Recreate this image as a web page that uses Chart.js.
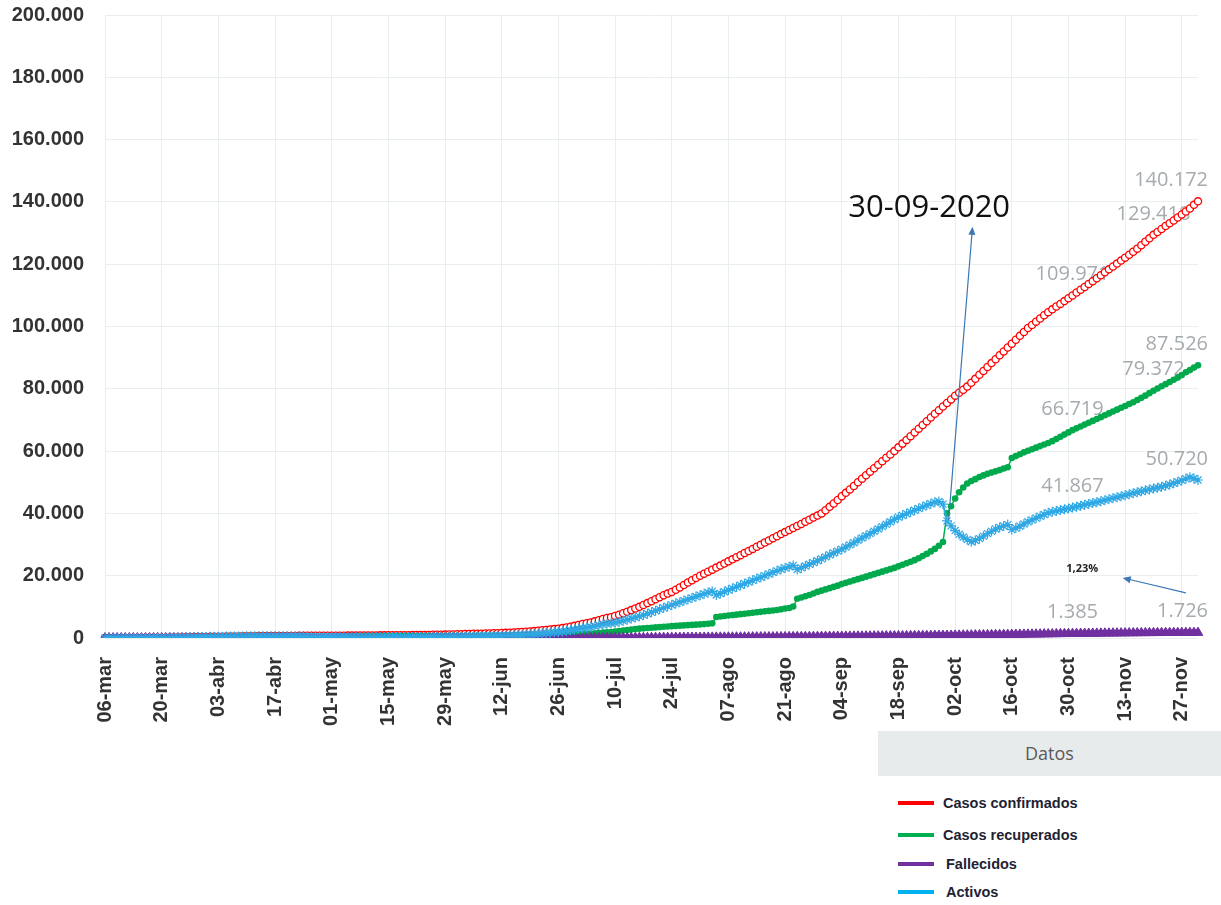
<!DOCTYPE html>
<html>
<head>
<meta charset="utf-8">
<script src="https://cdn.jsdelivr.net/npm/chart.js@4/dist/chart.umd.min.js"></script>
<style>
  body { margin: 0; background: #fff; }
  #wrap { position: relative; width: 1221px; height: 905px; overflow: hidden; }
  #grafico { position: absolute; left: 0; top: 0; }
  #leyenda { position: absolute; left: 878px; top: 731px; width: 343px; height: 174px; background: #fff; font-family: "Liberation Sans", Arial, sans-serif; }
  #leyenda .titulo { height: 45px; line-height: 45px; background: #e8ebeb; color: #595959; font-size: 18px; text-align: center; font-family: "Open Sans", sans-serif; }
  #leyenda .item { position: absolute; left: 20px; height: 20px; display: flex; align-items: center; }
  #leyenda .linea { width: 36px; height: 4px; margin-right: 9px; }
  #leyenda .texto { font-size: 14.5px; font-weight: bold; color: #1e2233; }
</style>
</head>
<body>
<div id="wrap">
  <canvas id="grafico" width="1221" height="905"></canvas>
  <div id="leyenda">
    <div class="titulo">Datos</div>
  </div>
</div>
<script>
// fechas 06-mar .. 01-dic
const meses = ['ene', 'feb', 'mar', 'abr', 'may', 'jun', 'jul', 'ago', 'sep', 'oct', 'nov', 'dic'];
const fechas = [];
for (let d = new Date(2020, 2, 6); d <= new Date(2020, 11, 1); d.setDate(d.getDate() + 1)) {
    fechas.push(String(d.getDate()).padStart(2, '0') + '-' + meses[d.getMonth()]);
}

const confirmados = [
    1, 5, 9, 9, 13, 22, 23, 26, 27, 35, 41, 50, 69, 87,
    113, 117, 134, 158, 177, 201, 231, 263, 295, 314, 330, 347, 375, 396,
    416, 435, 454, 467, 483, 502, 539, 558, 577, 595, 612, 618, 626, 642,
    649, 655, 660, 662, 669, 681, 687, 693, 695, 697, 705, 713, 719, 725,
    739, 742, 755, 761, 765, 773, 778, 792, 801, 804, 815, 830, 843, 853,
    866, 882, 897, 903, 911, 918, 930, 951, 956, 984, 1000, 1022, 1047, 1056,
    1084, 1105, 1157, 1194, 1228, 1263, 1318, 1342, 1375, 1400, 1440, 1470, 1510, 1560,
    1600, 1660, 1720, 1800, 1870, 1940, 2040, 2120, 2210, 2330, 2480, 2600, 2720, 2860,
    3000, 3180, 3400, 3640, 3900, 4200, 4480, 4720, 5000, 5350, 5720, 6080, 6420, 6700,
    7050, 7480, 7950, 8450, 8950, 9480, 10000, 10580, 11200, 11820, 12450, 13090, 13700, 14250,
    14800, 15500, 16250, 17000, 17800, 18550, 19300, 20000, 20620, 21300, 21950, 22600, 23250, 23900,
    24600, 25250, 25950, 26600, 27300, 27950, 28600, 29300, 29950, 30650, 31300, 32000, 32650, 33350,
    34000, 34650, 35300, 35950, 36600, 37300, 37950, 38650, 39300, 40000, 41000, 42100, 43200, 44300,
    45500, 46600, 47700, 48800, 50000, 51150, 52250, 53400, 54500, 55600, 56750, 57850, 58900, 60000,
    61200, 62400, 63600, 64800, 66000, 67200, 68400, 69600, 70800, 72000, 73150, 74300, 75450, 76600,
    77800, 78750, 79700, 80700, 81950, 83200, 84500, 85750, 87000, 88250, 89500, 90750, 92000, 93250,
    94500, 95750, 97000, 98250, 99500, 100500, 101550, 102550, 103600, 104600, 105500, 106400, 107250, 108150,
    109050, 109971, 110900, 111800, 112700, 113650, 114550, 115500, 116450, 117400, 118350, 119250, 120200, 121150,
    122100, 123050, 124000, 125000, 126100, 127200, 128300, 129418, 130350, 131300, 132250, 133150, 134050, 135000,
    135950, 136900, 137900, 139050, 140172
];

const recuperados = [
    0, 0, 0, 0, 0, 0, 0, 0, 0, 0, 0, 0, 0, 0,
    0, 0, 0, 0, 0, 0, 0, 0, 2, 3, 4, 4, 4, 6,
    8, 9, 9, 14, 17, 23, 27, 30, 33, 42, 47, 53, 55, 61,
    75, 80, 88, 100, 112, 124, 134, 149, 178, 227, 257, 285, 311, 326,
    339, 357, 398, 436, 454, 476, 484, 508, 521, 533, 548, 552, 555, 561,
    565, 574, 592, 604, 609, 618, 620, 625, 629, 635, 641, 650, 654, 660,
    664, 671, 681, 694, 707, 715, 730, 741, 755, 770, 786, 795, 802, 812,
    826, 839, 850, 862, 877, 893, 903, 915, 930, 941, 955, 970, 988, 1004,
    1020, 1060, 1100, 1150, 1200, 1260, 1310, 1380, 1450, 1530, 1620, 1720, 1830, 1950,
    2100, 2250, 2400, 2550, 2700, 2850, 3000, 3100, 3200, 3300, 3400, 3500, 3600, 3700,
    3800, 3880, 3960, 4040, 4120, 4200, 4280, 4370, 4460, 4560, 4700, 6750, 6900, 7050,
    7200, 7350, 7500, 7650, 7800, 7950, 8100, 8250, 8400, 8550, 8700, 8850, 9000, 9200,
    9450, 9650, 10100, 12600, 13000, 13400, 13800, 14300, 14800, 15200, 15600, 16000, 16400, 16800,
    17300, 17700, 18100, 18500, 18900, 19300, 19700, 20100, 20500, 20900, 21300, 21700, 22100, 22500,
    23000, 23500, 24000, 24500, 25000, 25600, 26300, 27000, 27800, 28600, 29600, 30800,
    40000, 42300, 44800, 46800, 48300, 49600, 50400, 51000, 51700, 52200, 52700, 53100, 53500, 53900,
    54400, 54800, 57800, 58400, 59000, 59600, 60100, 60600, 61100, 61600, 62100, 62600, 63200, 63900,
    64600, 65300, 66000, 66719, 67300, 67900, 68500, 69100, 69700, 70300, 70900, 71500, 72100, 72700,
    73300, 73900, 74500, 75100, 75700, 76400, 77100, 77800, 78600, 79372, 80100, 80800, 81500, 82200,
    82900, 83600, 84400, 85300, 86000, 86800, 87526
];

const fallecidos = [
    0, 0, 0, 0, 0, 0, 0, 0, 0, 0, 0, 0, 1, 1,
    1, 2, 2, 2, 2, 2, 2, 2, 2, 2, 2, 2, 2, 2,
    2, 2, 3, 3, 3, 3, 3, 3, 3, 3, 3, 3, 4, 4,
    4, 5, 5, 5, 5, 5, 5, 6, 6, 6, 6, 6, 6, 6,
    6, 6, 6, 6, 6, 6, 6, 6, 6, 6, 6, 6, 6, 6,
    8, 8, 8, 9, 9, 9, 9, 10, 10, 10, 10, 10, 10, 10,
    10, 10, 10, 10, 10, 10, 10, 10, 10, 10, 12, 12, 12, 12,
    12, 12, 12, 12, 13, 13, 13, 14, 14, 15, 15, 16, 16, 16,
    17, 17, 18, 19, 20, 22, 23, 25, 26, 28, 30, 33, 36, 40,
    42, 45, 49, 53, 57, 62, 66, 72, 78, 84, 90, 96, 104, 110,
    116, 125, 133, 142, 150, 157, 164, 172, 180, 188, 196, 205, 213, 221,
    230, 238, 246, 255, 263, 272, 281, 290, 300, 309, 318, 327, 336, 346,
    355, 364, 374, 383, 393, 402, 412, 422, 432, 442, 452, 463, 474, 485,
    496, 507, 518, 529, 540, 551, 562, 573, 584, 596, 608, 620, 632, 644,
    656, 668, 680, 692, 704, 716, 729, 742, 755, 768, 781, 794, 807, 820,
    838, 856, 874, 893, 912, 931, 950, 969, 988, 1007, 1026, 1045, 1064, 1083,
    1102, 1118, 1140, 1161, 1176, 1197, 1219, 1232, 1255, 1271, 1290, 1313, 1329, 1350,
    1367, 1385, 1400, 1415, 1430, 1445, 1460, 1475, 1490, 1505, 1520, 1535, 1550, 1565,
    1578, 1590, 1602, 1614, 1626, 1638, 1650, 1662, 1670, 1677, 1684, 1690, 1696, 1701,
    1706, 1711, 1716, 1721, 1726
];

const activos = [
    1, 5, 9, 9, 13, 22, 23, 26, 27, 35, 41, 50, 68, 86,
    112, 115, 132, 156, 175, 199, 229, 261, 291, 309, 324, 341, 369, 388,
    406, 424, 442, 450, 463, 476, 509, 525, 541, 550, 562, 562, 567, 577,
    570, 570, 567, 557, 552, 552, 548, 538, 511, 464, 442, 422, 402, 393,
    394, 379, 351, 319, 305, 291, 288, 278, 274, 265, 261, 272, 282, 286,
    293, 300, 297, 290, 293, 291, 301, 316, 317, 339, 349, 362, 383, 386,
    410, 424, 466, 490, 511, 538, 578, 591, 610, 620, 642, 663, 696, 736,
    762, 809, 858, 926, 980, 1034, 1124, 1191, 1266, 1374, 1510, 1614, 1716, 1840,
    1963, 2103, 2282, 2471, 2680, 2918, 3147, 3315, 3524, 3792, 4070, 4327, 4554, 4710,
    4900, 5200, 5530, 5880, 6250, 6600, 6950, 7350, 7800, 8250, 8750, 9200, 9700, 10150,
    10600, 11050, 11500, 11950, 12400, 12850, 13300, 13750, 14200, 14600, 15000, 13800, 14300, 14850,
    15400, 15900, 16400, 16950, 17450, 17950, 18500, 19000, 19500, 20000, 20550, 21050, 21550, 22050,
    22500, 22900, 23300, 22000, 22500, 23100, 23650, 24200, 24800, 25400, 26050, 26700, 27300, 27900,
    28500, 29200, 29900, 30600, 31400, 32100, 32800, 33500, 34250, 35000, 35750, 36500, 37300, 38050,
    38800, 39350, 39900, 40450, 41000, 41550, 42100, 42600, 43100, 43600, 43800, 43000,
    37600, 36000, 34500, 33300, 32400, 31600, 30900, 31300, 31900, 32700, 33500, 34250, 35000, 35500,
    35950, 36400, 34800, 35300, 35900, 36600, 37300, 37900, 38500, 39100, 39650, 40200, 40500, 40800,
    41100, 41350, 41600, 41867, 42150, 42450, 42750, 43050, 43350, 43600, 43900, 44250, 44550, 44900,
    45200, 45500, 45850, 46150, 46500, 46800, 47100, 47400, 47700, 48000, 48250, 48550, 48900, 49300,
    49700, 50150, 50600, 51100, 51600, 51200, 50720
];

// puntos con etiqueta de valor (indice de fecha)
const etiquetasConfirmados = [239, 259, 270];
const etiquetasRecuperados = [239, 259, 270];
const etiquetasActivos = [239, 270];
const etiquetasFallecidos = [239, 270];

// anotaciones en coordenadas de datos [indice fecha, valor]
const flechas = [
    { de: [208.4, 37900], a: [214.3, 132000] },
    { de: [267, 14500], a: [251.4, 19300] }
];
const notas = [
    { texto: '30-09-2020', pos: [203.6, 138100], font: '31px "Open Sans"', color: '#111111' },
    { texto: '1,23%', pos: [241.4, 22200], font: 'bold 11px "Open Sans"', color: '#222222' }
];

const series = [
    { nombre: 'Casos confirmados', color: '#ff0000', data: confirmados, etiquetas: etiquetasConfirmados },
    { nombre: 'Casos recuperados', color: '#00b050', data: recuperados, etiquetas: etiquetasRecuperados },
    { nombre: 'Fallecidos', color: '#7030a0', data: fallecidos, etiquetas: etiquetasFallecidos },
    { nombre: 'Activos', color: '#00b0f0', data: activos, etiquetas: etiquetasActivos }
];

const gridColor = '#e9eeef';
const puntos = v => String(v).replace(/\B(?=(\d{3})+(?!\d))/g, '.');

const anotaciones = {
    id: 'anotaciones',
    beforeDatasetsDraw(chart) {
        const ctx = chart.ctx;
        const x = chart.scales.x;
        const y = chart.scales.y;
        ctx.save();
        ctx.font = '20px "Open Sans"';
        ctx.fillStyle = '#a5abaf';
        ctx.textAlign = 'center';
        ctx.textBaseline = 'middle';
        series.forEach(s => {
            s.etiquetas.forEach(i => {
                const txt = puntos(s.data[i]);
                const w = ctx.measureText(txt).width;
                const px = Math.min(x.getPixelForValue(i), chart.width - 13 - w / 2);
                ctx.fillText(txt, px, y.getPixelForValue(s.data[i]) - 21);
            });
        });
        ctx.restore();
    },
    afterDatasetsDraw(chart) {
        const ctx = chart.ctx;
        const x = chart.scales.x;
        const y = chart.scales.y;
        ctx.save();
        ctx.strokeStyle = '#3b78b4';
        ctx.fillStyle = '#3b78b4';
        ctx.lineWidth = 1.2;
        flechas.forEach(f => {
            const x1 = x.getPixelForValue(f.de[0]), y1 = y.getPixelForValue(f.de[1]);
            const x2 = x.getPixelForValue(f.a[0]), y2 = y.getPixelForValue(f.a[1]);
            const ang = Math.atan2(y2 - y1, x2 - x1);
            ctx.beginPath();
            ctx.moveTo(x1, y1);
            ctx.lineTo(x2 - 6 * Math.cos(ang), y2 - 6 * Math.sin(ang));
            ctx.stroke();
            ctx.beginPath();
            ctx.moveTo(x2, y2);
            ctx.lineTo(x2 - 8 * Math.cos(ang) + 3.5 * Math.sin(ang), y2 - 8 * Math.sin(ang) - 3.5 * Math.cos(ang));
            ctx.lineTo(x2 - 8 * Math.cos(ang) - 3.5 * Math.sin(ang), y2 - 8 * Math.sin(ang) + 3.5 * Math.cos(ang));
            ctx.closePath();
            ctx.fill();
        });
        ctx.textAlign = 'center';
        ctx.textBaseline = 'middle';
        notas.forEach(n => {
            ctx.font = n.font;
            ctx.fillStyle = n.color;
            ctx.fillText(n.texto, x.getPixelForValue(n.pos[0]), y.getPixelForValue(n.pos[1]));
        });
        ctx.restore();
    }
};

new Chart(document.getElementById('grafico'), {
    type: 'line',
    data: {
        labels: fechas,
        datasets: [
            {
                label: series[0].nombre,
                data: confirmados,
                borderColor: '#ff0000',
                borderWidth: 1,
                pointStyle: 'circle',
                pointRadius: 3.6,
                pointBorderWidth: 1.3,
                pointBackgroundColor: '#ffffff',
                pointBorderColor: '#ff0000',
                order: 3
            },
            {
                label: series[1].nombre,
                data: recuperados,
                borderColor: '#00b050',
                borderWidth: 1.5,
                pointStyle: 'circle',
                pointRadius: 3.3,
                pointBorderWidth: 0,
                pointBackgroundColor: '#00aa4c',
                order: 2
            },
            {
                label: series[2].nombre,
                data: fallecidos,
                borderColor: '#7030a0',
                borderWidth: 6,
                pointStyle: 'triangle',
                pointRadius: 5.5,
                pointBorderWidth: 1,
                pointBackgroundColor: '#7030a0',
                pointBorderColor: '#7030a0',
                order: 1
            },
            {
                label: series[3].nombre,
                data: activos,
                borderColor: '#2fa8e4',
                borderWidth: 2,
                pointStyle: 'star',
                pointRadius: 5,
                pointBorderWidth: 1.2,
                pointBorderColor: '#2fa8e4',
                pointBackgroundColor: '#2fa8e4',
                order: 0
            }
        ]
    },
    options: {
        responsive: false,
        animation: false,
        events: [],
        layout: { padding: { top: 15, right: 23, left: 0, bottom: 0 } },
        plugins: {
            legend: { display: false },
            tooltip: { enabled: false }
        },
        scales: {
            x: {
                offset: false,
                afterFit: function(scale) {
                    scale.height = 267;
                    scale.paddingLeft = 0;
                    scale.paddingRight = 0;
                },
                border: { display: false },
                grid: {
                    drawTicks: false,
                    color: function(c) { return c.index % 14 === 0 ? gridColor : 'rgba(0,0,0,0)'; }
                },
                ticks: {
                    autoSkip: false,
                    minRotation: 90,
                    maxRotation: 90,
                    padding: 19,
                    color: '#333333',
                    font: { family: '"Liberation Sans", Arial, sans-serif', size: 20, weight: 'bold' },
                    callback: function(value, index) {
                        return index % 14 === 0 ? this.getLabelForValue(value) : '';
                    }
                }
            },
            y: {
                min: 0,
                max: 200000,
                afterFit: function(scale) {
                    scale.width = 105;
                    scale.paddingTop = 0;
                    scale.paddingBottom = 0;
                },
                border: { display: false },
                grid: { drawTicks: false, color: gridColor },
                ticks: {
                    stepSize: 20000,
                    padding: 21,
                    color: '#333333',
                    font: { family: '"Liberation Sans", Arial, sans-serif', size: 20, weight: 'bold' },
                    callback: function(value) { return puntos(value); }
                }
            }
        }
    },
    plugins: [anotaciones]
});

// leyenda
const leyenda = document.getElementById('leyenda');
const posLeyenda = [62, 94, 123, 151];
series.forEach((s, i) => {
    const item = document.createElement('div');
    item.className = 'item';
    item.style.top = posLeyenda[i] + 'px';
    const linea = document.createElement('div');
    linea.className = 'linea';
    linea.style.background = s.color;
    const texto = document.createElement('span');
    texto.className = 'texto';
    texto.textContent = s.nombre;
    if (i >= 2) texto.style.marginLeft = '3px';
    item.appendChild(linea);
    item.appendChild(texto);
    leyenda.appendChild(item);
});
</script>
</body>
</html>
